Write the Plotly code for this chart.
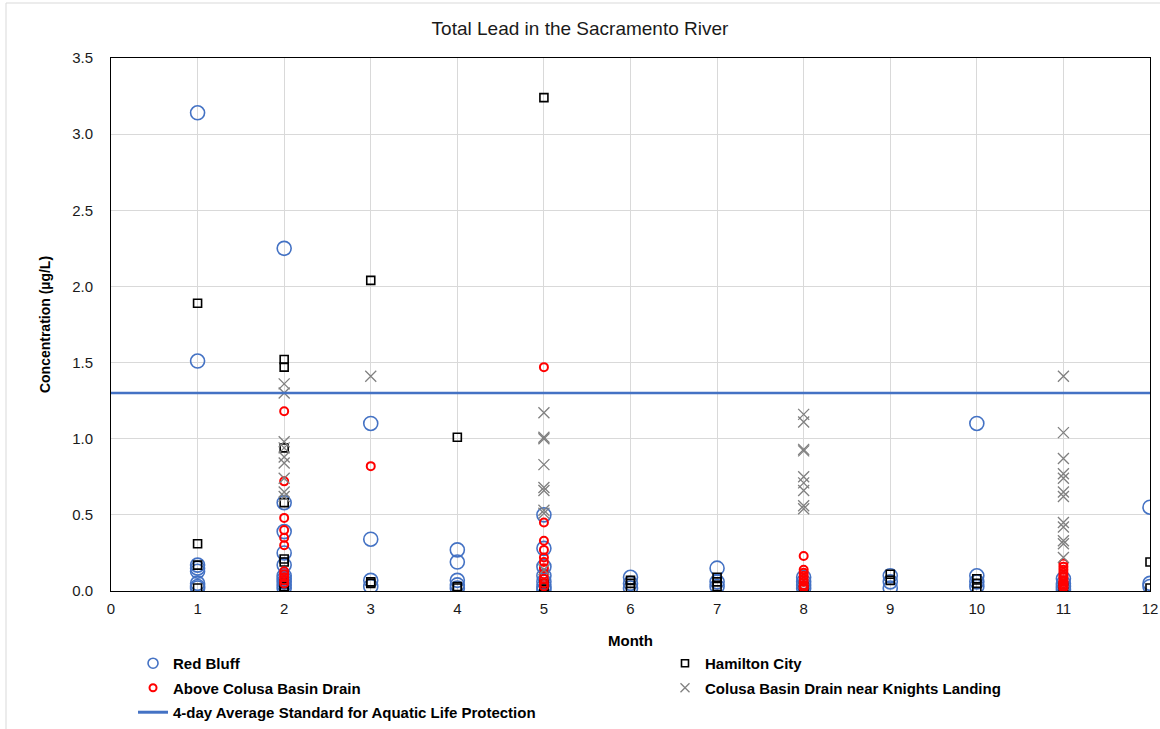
import plotly.graph_objects as go

# ---------------- data ----------------
rb_month = [1, 1, 1, 1, 1, 1, 1, 1,
            2, 2, 2, 2, 2, 2, 2, 2, 2, 2,
            3, 3, 3, 3,
            4, 4, 4, 4, 4,
            5, 5, 5, 5, 5, 5, 5,
            6, 6, 6,
            7, 7, 7,
            8, 8, 8, 8,
            9, 9, 9,
            10, 10, 10, 10,
            11, 11, 11, 11,
            12, 12, 12]
rb_value = [3.14, 1.51, 0.17, 0.15, 0.13, 0.05, 0.03, 0.02,
            2.25, 0.58, 0.39, 0.25, 0.17, 0.10, 0.08, 0.06, 0.04, 0.02,
            1.10, 0.34, 0.07, 0.03,
            0.27, 0.19, 0.07, 0.04, 0.02,
            0.50, 0.28, 0.16, 0.10, 0.06, 0.03, 0.01,
            0.09, 0.05, 0.02,
            0.15, 0.06, 0.03,
            0.09, 0.06, 0.04, 0.02,
            0.10, 0.06, 0.02,
            1.10, 0.10, 0.06, 0.03,
            0.08, 0.05, 0.03, 0.01,
            0.55, 0.05, 0.03]

hc_month = [1, 1, 1, 1,
            2, 2, 2, 2, 2, 2, 2, 2, 2,
            3, 3, 3,
            4, 4, 4,
            5, 5, 5, 5, 5,
            6, 6, 6,
            7, 7, 7,
            8, 8,
            9, 9,
            10, 10, 10,
            11, 11,
            12, 12]
hc_value = [1.89, 0.31, 0.17, 0.02,
            1.52, 1.47, 0.94, 0.58, 0.21, 0.19, 0.05, 0.03, 0.02,
            2.04, 0.06, 0.05,
            1.01, 0.03, 0.02,
            3.24, 0.05, 0.03, 0.02, 0.01,
            0.07, 0.05, 0.02,
            0.09, 0.06, 0.03,
            0.03, 0.01,
            0.11, 0.07,
            0.08, 0.05, 0.02,
            0.03, 0.02,
            0.19, 0.02]

ac_month = [2, 2, 2, 2, 2, 2, 2, 2, 2, 2, 2,
            3,
            5, 5, 5, 5, 5, 5, 5, 5, 5, 5, 5,
            8, 8, 8, 8, 8, 8, 8, 8, 8,
            11, 11, 11, 11, 11, 11, 11, 11, 11, 11, 11, 11]
ac_value = [1.18, 0.72, 0.48, 0.40, 0.35, 0.30, 0.13, 0.11, 0.09, 0.07, 0.05,
            0.82,
            1.47, 0.45, 0.33, 0.27, 0.22, 0.19, 0.15, 0.11, 0.08, 0.05, 0.03,
            0.23, 0.14, 0.12, 0.10, 0.08, 0.06, 0.04, 0.03, 0.02,
            0.18, 0.16, 0.14, 0.12, 0.10, 0.09, 0.07, 0.06, 0.05, 0.04, 0.03, 0.02]

cb_month = [2, 2, 2, 2, 2, 2, 2, 2, 2,
            3,
            5, 5, 5, 5, 5, 5, 5, 5, 5,
            8, 8, 8, 8, 8, 8, 8, 8, 8,
            11, 11, 11, 11, 11, 11, 11, 11, 11, 11, 11, 11]
cb_value = [1.36, 1.30, 0.98, 0.94, 0.88, 0.84, 0.74, 0.65, 0.62,
            1.41,
            1.17, 1.01, 1.00, 0.83, 0.68, 0.66, 0.53, 0.51, 0.14,
            1.16, 1.11, 0.93, 0.92, 0.75, 0.71, 0.66, 0.56, 0.54,
            1.41, 1.04, 0.87, 0.77, 0.74, 0.65, 0.62, 0.45, 0.42, 0.33, 0.31, 0.22]

standard_x = [0, 12]
standard_y = [1.3, 1.3]

x_ticks = list(range(0, 13))
y_ticks = [0.0, 0.5, 1.0, 1.5, 2.0, 2.5, 3.0, 3.5]

names = ["Red Bluff", "Hamilton City", "Above Colusa Basin Drain",
         "Colusa Basin Drain near Knights Landing",
         "4-day Average Standard for Aquatic Life Protection"]

# ---------------- styles ----------------
FONT = "Liberation Sans"
BLUE = "#4472C4"
styles = [
    dict(symbol="circle-open", color=BLUE, lw=1.6, size=14, lsize=10),
    dict(symbol="square-open", color="#000000", lw=1.6, size=8, lsize=7),
    dict(symbol="circle-open", color="#FF0000", lw=2.0, size=8, lsize=7),
    dict(symbol="x-thin-open", color="#808080", lw=1.3, size=11, lsize=9),
]
series = [(rb_month, rb_value), (hc_month, hc_value),
          (ac_month, ac_value), (cb_month, cb_value)]
legend_of = ["legend", "legend2", "legend", "legend2"]

fig = go.Figure()

# data traces (no legend entries)
for (xs, ys), st, nm in zip(series, styles, names[:4]):
    fig.add_trace(go.Scatter(
        x=xs, y=ys, mode="markers", name=nm, showlegend=False,
        marker=dict(symbol=st["symbol"], size=st["size"], color=st["color"],
                    line=dict(width=st["lw"], color=st["color"])),
    ))

fig.add_trace(go.Scatter(
    x=standard_x, y=standard_y, mode="lines", name=names[4], showlegend=False,
    line=dict(color=BLUE, width=2.5),
))

# legend entries (legend-only, smaller symbols like the reference legend)
order = [0, 2, 1, 3]
for i in order:
    st = styles[i]
    fig.add_trace(go.Scatter(
        x=[None], y=[None], mode="markers", name=names[i],
        legend=legend_of[i], legendgroup=f"g{i}", showlegend=True,
        marker=dict(symbol=st["symbol"], size=st["lsize"], color=st["color"],
                    line=dict(width=st["lw"], color=st["color"])),
    ))
fig.add_trace(go.Scatter(
    x=[None], y=[None], mode="lines", name=names[4],
    legend="legend", legendgroup="g4", showlegend=True,
    line=dict(color=BLUE, width=3),
))

legend_common = dict(
    orientation="v", yanchor="top", xanchor="left",
    font=dict(family=FONT, size=15, color="#000000", weight="bold"),
    tracegroupgap=2, itemwidth=30, bgcolor="rgba(0,0,0,0)", borderwidth=0,
    traceorder="grouped",
)

fig.update_layout(
    width=1160, height=729,
    margin=dict(l=111, r=10, t=58, b=138, autoexpand=False),
    paper_bgcolor="white", plot_bgcolor="white",
    font=dict(family=FONT, size=15, color="#1a1a1a"),
    title=dict(text="Total Lead in the Sacramento River",
               x=0.5, xanchor="center", y=1 - 28 / 729, yanchor="middle",
               font=dict(family=FONT, size=19, color="#1a1a1a")),
    showlegend=True,
    legend=dict(x=0.0212, y=-0.105, **legend_common),
    legend2=dict(x=0.5332, y=-0.105, **legend_common),
)

fig.update_xaxes(
    range=[0, 12], tickvals=x_ticks, ticktext=[str(t) for t in x_ticks],
    showgrid=True, gridcolor="#D9D9D9", gridwidth=1,
    showline=True, linecolor="#000000", linewidth=1, mirror=True,
    zeroline=False, ticks="", ticklabelstandoff=4,
    tickfont=dict(family=FONT, size=15, color="#1a1a1a"),
    title=dict(text="<b>Month</b>", standoff=19,
               font=dict(family=FONT, size=15, color="#000000")),
)
fig.update_yaxes(
    range=[0, 3.5], tickvals=y_ticks, ticktext=[f"{v:.1f}" for v in y_ticks],
    showgrid=True, gridcolor="#D9D9D9", gridwidth=1,
    showline=True, linecolor="#000000", linewidth=1, mirror=True,
    zeroline=False, ticks="", ticklabelstandoff=14,
    tickfont=dict(family=FONT, size=15, color="#1a1a1a"),
    title=dict(text="<b>Concentration (µg/L)</b>", standoff=18,
               font=dict(family=FONT, size=14, color="#000000")),
)

# outer chart frame
fig.add_shape(type="rect", xref="paper", yref="paper",
              x0=(6 - 111) / 1039, x1=(1175 - 111) / 1039,
              y0=(591 - 745) / 533, y1=(591 - 3) / 533,
              line=dict(color="#D9D9D9", width=1), layer="below")

fig.write_html("out.html", config={"displayModeBar": False},
               post_script="document.body.style.margin='0';document.body.style.padding='0';")
